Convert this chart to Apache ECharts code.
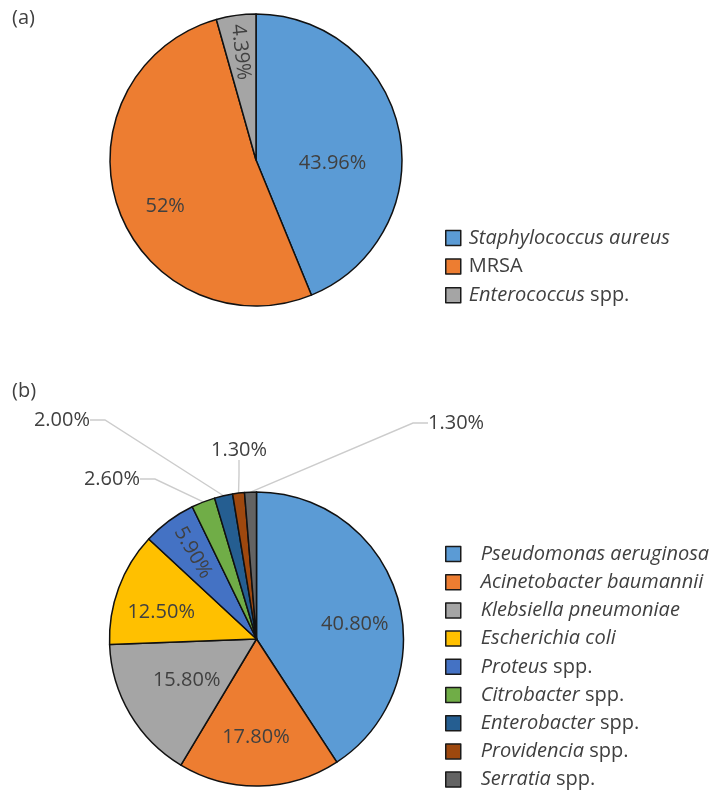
<!DOCTYPE html>
<html>
<head>
<meta charset="utf-8">
<script src="https://cdn.jsdelivr.net/npm/echarts@6/dist/echarts.min.js"></script>
<style>
html,body{margin:0;padding:0;background:#fff;}
#chart{width:718px;height:794px;}
</style>
</head>
<body>
<div id="chart"></div>
<script>
// ---- data (a) ----
const catA = ['Staphylococcus aureus', 'MRSA', 'Enterococcus spp.'];
const valA = [43.96, 52, 4.39];
const lblA = ['43.96%', '52%', '4.39%'];
// ---- data (b) ----
const catB = ['Pseudomonas aeruginosa', 'Acinetobacter baumannii', 'Klebsiella pneumoniae',
  'Escherichia coli', 'Proteus spp.', 'Citrobacter spp.', 'Enterobacter spp.',
  'Providencia spp.', 'Serratia spp.'];
const valB = [40.8, 17.8, 15.8, 12.5, 5.9, 2.6, 2.0, 1.3, 1.3];
const lblB = ['40.80%', '17.80%', '15.80%', '12.50%', '5.90%', '2.60%', '2.00%', '1.30%', '1.30%'];

// ---- styles ----
const colA = ['#5B9BD5', '#ED7D31', '#A5A5A5'];
const colB = ['#5B9BD5', '#ED7D31', '#A5A5A5', '#FFC000', '#4472C4', '#70AD47', '#255E91', '#9E480E', '#636363'];
const FONT = '"Open Sans", "Noto Sans", sans-serif';
const TXT = '#404040';

// label placement tweaks (layout only; shifts of rotated labels are in the label's own frame)
const rotA = [null, null, -84];
const shiftA = [[2, 17.5], [-19, 22], [-33, 1.5]];
const rotB = [null, null, null, null, -60, null, null, null, null];
const shiftB = [[25, 7], [-2, 21.5], [-4, 2.6], [-23.6, -0.5], [-30.5, 3.3]];
const outPosB = {
  5: { x: 147, y: 479, align: 'right', verticalAlign: 'middle' },
  6: { x: 97, y: 420, align: 'right', verticalAlign: 'middle' },
  7: { x: 239, y: 465, align: 'center', verticalAlign: 'bottom' },
  8: { x: 421, y: 423, align: 'left', verticalAlign: 'middle' }
};
const outPadB = {
  5: [0, 7, 0, 0], 6: [0, 7, 0, 0], 7: [0, 0, 5, 0], 8: [0, 0, 0, 7]
};

function legendFmt(name) {
  if (name === 'MRSA') return name;
  if (name.endsWith(' spp.')) return '{i|' + name.slice(0, -5) + '} spp.';
  return '{i|' + name + '}';
}

const dataA = catA.map((n, i) => {
  const lab = { formatter: lblA[i] };
  if (rotA[i] != null) lab.rotate = rotA[i];
  return { name: n, value: valA[i], itemStyle: { color: colA[i] }, label: lab };
});
const dataB = catB.map((n, i) => {
  const lab = { formatter: lblB[i] };
  if (rotB[i] != null) lab.rotate = rotB[i];
  if (outPosB[i]) { lab.position = 'outside'; lab.padding = outPadB[i]; }
  return {
    name: n, value: valB[i], itemStyle: { color: colB[i] }, label: lab,
    labelLine: { show: !!outPosB[i], length: 15, length2: 15 }
  };
});

const legendText = (padL) => ({
  fontFamily: FONT, fontSize: 20, color: TXT, lineHeight: 20, padding: [0, 0, 0, padL],
  rich: { i: { fontFamily: FONT, fontSize: 20, fontStyle: 'italic', color: TXT, lineHeight: 20 } }
});
const legendBase = {
  orient: 'vertical', padding: 0, icon: 'rect', height: 320,
  itemWidth: 15, itemHeight: 15,
  itemStyle: { borderColor: '#1a1a1a', borderWidth: 1.5 },
  formatter: legendFmt
};

const chart = echarts.init(document.getElementById('chart'), null, { renderer: 'canvas' });
chart.setOption({
  animation: false,
  backgroundColor: '#fff',
  textStyle: { fontFamily: FONT },
  title: [
    { text: '(a)', left: 12, top: 8, padding: 0, textStyle: { fontFamily: FONT, fontSize: 20, fontWeight: 'normal', color: TXT } },
    { text: '(b)', left: 12, top: 381, padding: 0, textStyle: { fontFamily: FONT, fontSize: 20, fontWeight: 'normal', color: TXT } }
  ],
  legend: [
    Object.assign({}, legendBase, {
      data: catA, left: 445, top: 228, itemGap: 8.6, textStyle: legendText(3)
    }),
    Object.assign({}, legendBase, {
      data: catB, left: 445, top: 544, itemGap: 8.2, textStyle: legendText(15)
    })
  ],
  series: [
    {
      type: 'pie', center: [256, 160], radius: [0, 146], startAngle: 90, clockwise: true,
      avoidLabelOverlap: false,
      itemStyle: { borderColor: '#111', borderWidth: 1.5 },
      label: { show: true, position: 'inside', fontFamily: FONT, fontSize: 20, color: TXT },
      labelLine: { show: false },
      labelLayout: function (p) {
        const s = shiftA[p.dataIndex];
        return s ? { dx: s[0], dy: s[1] } : {};
      },
      emphasis: { disabled: true },
      data: dataA
    },
    {
      type: 'pie', center: [256.5, 639], radius: [0, 147], startAngle: 90, clockwise: true,
      avoidLabelOverlap: false,
      itemStyle: { borderColor: '#111', borderWidth: 1.5 },
      label: { show: true, position: 'inside', fontFamily: FONT, fontSize: 20, color: TXT },
      labelLine: { lineStyle: { color: '#CCCCCC', width: 1.4 } },
      labelLayout: function (p) {
        const o = outPosB[p.dataIndex];
        if (o) return o;
        const s = shiftB[p.dataIndex];
        return s ? { dx: s[0], dy: s[1] } : {};
      },
      emphasis: { disabled: true },
      data: dataB
    }
  ]
});
</script>
</body>
</html>
